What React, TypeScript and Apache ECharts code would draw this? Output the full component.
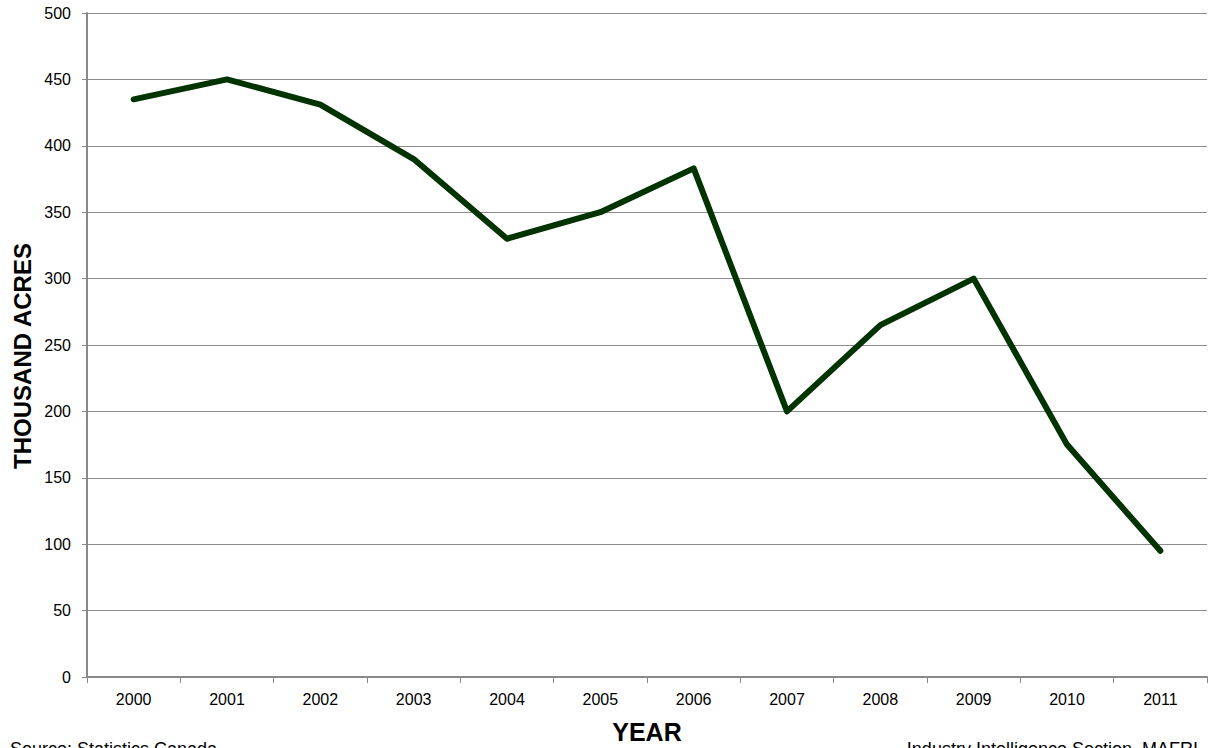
import React, { useEffect, useRef } from "react";
import * as echarts from "echarts";

const years = ["2000", "2001", "2002", "2003", "2004", "2005", "2006", "2007", "2008", "2009", "2010", "2011"];
const acres = [435, 450, 431, 390, 330, 350, 383, 200, 265, 300, 175, 95];

const FONT = "'Liberation Sans', Arial, sans-serif";

export default function App() {
  const ref = useRef<HTMLDivElement>(null);
  useEffect(() => {
    if (!ref.current) return;
    const chart = echarts.init(ref.current, undefined, { renderer: "svg" });
    chart.setOption({
      animation: false,
      backgroundColor: "#ffffff",
      grid: { left: 87, right: 1, top: 13, bottom: 71, containLabel: false },
      xAxis: {
        type: "category",
        data: years,
        boundaryGap: true,
        axisLine: { show: true, lineStyle: { color: "#888888", width: 2 } },
        axisTick: { show: true, length: 6, lineStyle: { color: "#888888", width: 1 } },
        axisLabel: { color: "#000000", fontSize: 16, fontFamily: FONT, margin: 14 },
        splitLine: { show: false },
      },
      yAxis: {
        type: "value",
        min: 0,
        max: 500,
        interval: 50,
        axisLine: { show: true, lineStyle: { color: "#888888", width: 2 } },
        axisTick: { show: true, length: 5, lineStyle: { color: "#888888", width: 1 } },
        axisLabel: { color: "#000000", fontSize: 16, fontFamily: FONT, margin: 16 },
        splitLine: { show: true, lineStyle: { color: "#8c8c8c", width: 1 } },
      },
      series: [
        {
          type: "line",
          data: acres,
          showSymbol: false,
          symbol: "none",
          lineStyle: { color: "#003300", width: 6, cap: "round", join: "round" },
          itemStyle: { color: "#003300" },
        },
      ],
      graphic: [
        {
          type: "text",
          x: 647,
          y: 732,
          style: { text: "YEAR", font: `bold 25px ${FONT}`, fill: "#000", align: "center", verticalAlign: "middle" },
        },
        {
          type: "text",
          x: 22,
          y: 356,
          rotation: Math.PI / 2,
          style: { text: "THOUSAND ACRES", font: `bold 24px ${FONT}`, fill: "#000", align: "center", verticalAlign: "middle" },
        },
        {
          type: "text",
          x: 10,
          y: 740,
          style: { text: "Source: Statistics Canada", font: `18px ${FONT}`, fill: "#000", align: "left", verticalAlign: "top" },
        },
        {
          type: "text",
          x: 1198,
          y: 740,
          style: { text: "Industry Intelligence Section, MAFRI", font: `18px ${FONT}`, fill: "#000", align: "right", verticalAlign: "top" },
        },
      ],
    });
    return () => chart.dispose();
  }, []);
  return <div ref={ref} style={{ position: "absolute", left: 0, top: 0, width: 1208, height: 748 }} />;
}
